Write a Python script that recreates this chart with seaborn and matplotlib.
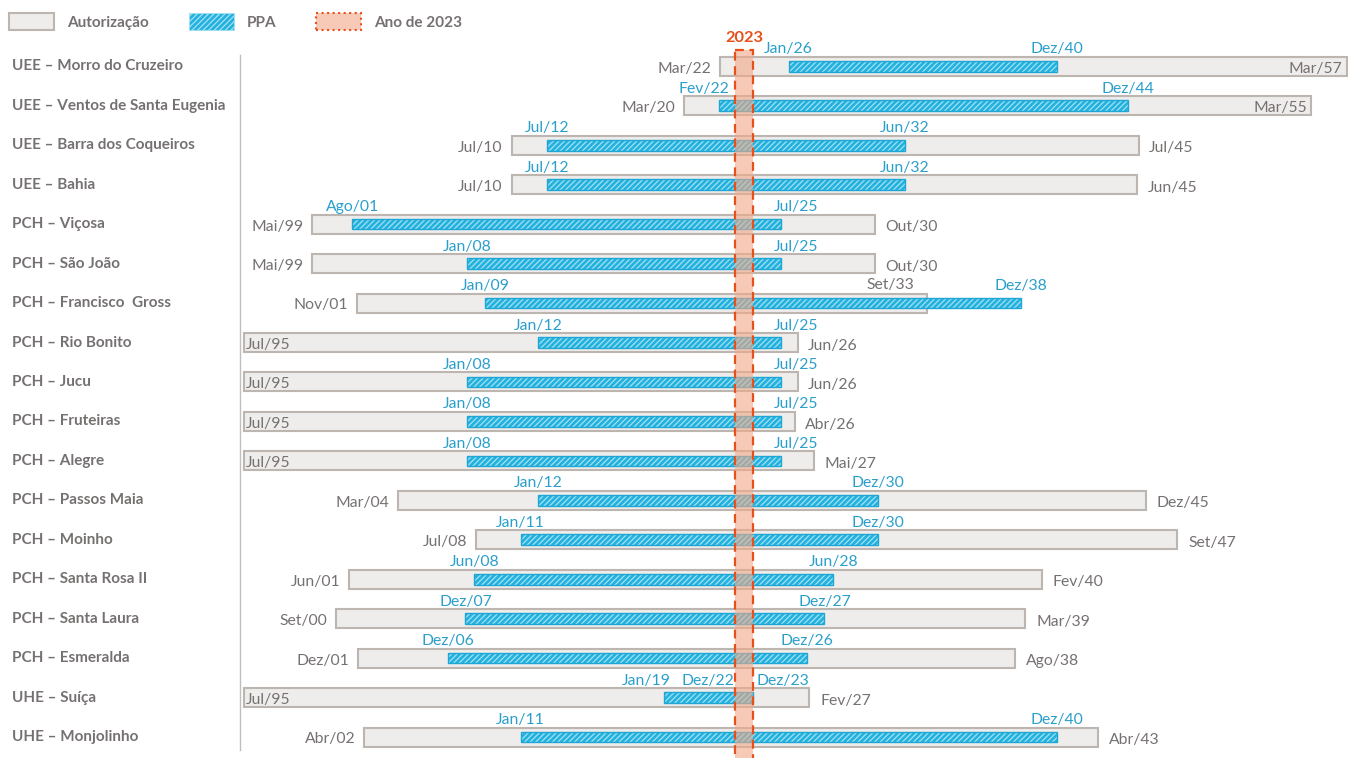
import numpy as np
import pandas as pd
import seaborn as sns
import matplotlib
matplotlib.use("Agg")
import matplotlib.pyplot as plt
from matplotlib.patches import Patch, Rectangle
import matplotlib.transforms as mtrans

# ---------------- data ----------------
rows = [
    "UEE – Morro do Cruzeiro", "UEE – Ventos de Santa Eugenia", "UEE – Barra dos Coqueiros",
    "UEE – Bahia", "PCH – Viçosa", "PCH – São João", "PCH – Francisco  Gross",
    "PCH – Rio Bonito", "PCH – Jucu", "PCH – Fruteiras", "PCH – Alegre",
    "PCH – Passos Maia", "PCH – Moinho", "PCH – Santa Rosa II", "PCH – Santa Laura",
    "PCH – Esmeralda", "UHE – Suíça", "UHE – Monjolinho",
]
aut_start = ["Mar/22", "Mar/20", "Jul/10", "Jul/10", "Mai/99", "Mai/99", "Nov/01", "Jul/95",
             "Jul/95", "Jul/95", "Jul/95", "Mar/04", "Jul/08", "Jun/01", "Set/00", "Dez/01",
             "Jul/95", "Abr/02"]
aut_end = ["Mar/57", "Mar/55", "Jul/45", "Jun/45", "Out/30", "Out/30", "Set/33", "Jun/26",
           "Jun/26", "Abr/26", "Mai/27", "Dez/45", "Set/47", "Fev/40", "Mar/39", "Ago/38",
           "Fev/27", "Abr/43"]
ppa_start = ["Jan/26", "Fev/22", "Jul/12", "Jul/12", "Ago/01", "Jan/08", "Jan/09", "Jan/12",
             "Jan/08", "Jan/08", "Jan/08", "Jan/12", "Jan/11", "Jun/08", "Dez/07", "Dez/06",
             "Jan/19", "Jan/11"]
ppa_end = ["Dez/40", "Dez/44", "Jun/32", "Jun/32", "Jul/25", "Jul/25", "Dez/38", "Jul/25",
           "Jul/25", "Jul/25", "Jul/25", "Dez/30", "Dez/30", "Jun/28", "Dez/27", "Dez/26",
           "Dez/23", "Dez/40"]
extra_rows = ["UHE – Suíça"]
extra_labels = ["Dez/22"]
highlight_year = 2023
legend_labels = ["Autorização", "PPA", "Ano de 2023"]

MESES = {"Jan": 1, "Fev": 2, "Mar": 3, "Abr": 4, "Mai": 5, "Jun": 6,
         "Jul": 7, "Ago": 8, "Set": 9, "Out": 10, "Nov": 11, "Dez": 12}


def to_year(s, end=False):
    m, y = s.split("/")
    y = int(y)
    y = 1900 + y if y >= 90 else 2000 + y
    mm = MESES[m]
    return y + (mm if end else mm - 1) / 12.0


df = pd.DataFrame({
    "row": rows,
    "a0": [to_year(s) for s in aut_start],
    "a1": [to_year(s, True) for s in aut_end],
    "p0": [to_year(s) for s in ppa_start],
    "p1": [to_year(s, True) for s in ppa_end],
    "a0_lbl": aut_start, "a1_lbl": aut_end, "p0_lbl": ppa_start, "p1_lbl": ppa_end,
})
df["y"] = np.arange(len(df))

# ---------------- style ----------------
sns.set_theme(style="white")
plt.rcParams["font.family"] = ["Lato", "DejaVu Sans"]
plt.rcParams["hatch.linewidth"] = 0.9

GRAY_TXT = "#767171"
AUT_FACE = "#efedeb"
AUT_EDGE = "#bdb5af"
BLUE = "#22b2df"
BLUE_EDGE = "#1ea6d4"
HATCH = "#a6e0f3"
BLUE_TXT = "#2a9fcc"
ORANGE = "#e8501a"
BAND = (0.945, 0.66, 0.535, 0.6)
FS = 11
VFS = 11.3

W, H = 1348, 758
fig = plt.figure(figsize=(W / 100, H / 100), dpi=100)
ax = fig.add_axes([240 / W, 0, 1108 / W, 711.7 / H])

XMIN, XMAX = 1995.3, 2057.3
ax.set_xlim(XMIN, XMAX)
ax.set_ylim(17.53, -0.507)

# authorisation bars
ax.barh(df["y"], df["a1"] - df["a0"], left=df["a0"], height=0.48,
        color=AUT_FACE, edgecolor=AUT_EDGE, linewidth=1.5, zorder=2)
# PPA bars: hatched fill + border
ax.barh(df["y"], df["p1"] - df["p0"], left=df["p0"], height=0.27,
        color=BLUE, edgecolor=HATCH, hatch="//////", linewidth=0, zorder=3)
ax.barh(df["y"], df["p1"] - df["p0"], left=df["p0"], height=0.27,
        fill=False, edgecolor=BLUE_EDGE, linewidth=1.0, zorder=3.1)

# 2023 band
band = Rectangle((highlight_year, -0.42), 1, 20, facecolor=BAND, edgecolor=ORANGE,
                 linestyle=(0, (4, 2.5)), linewidth=1.6, zorder=4)
ax.add_patch(band)
ax.text(highlight_year + 0.5, -0.72, str(highlight_year), ha="center", va="center",
        color=ORANGE, fontsize=11.8, fontweight="bold", clip_on=False, zorder=5)

# labels
for _, r in df.iterrows():
    y = r["y"]
    # authorisation start
    if r["a0"] - XMIN < 1.0:
        ax.text(r["a0"] + 0.12, y + 0.06, r["a0_lbl"], ha="left", va="center",
                color=GRAY_TXT, fontsize=VFS, zorder=5)
    else:
        ax.text(r["a0"] - 0.5, y + 0.06, r["a0_lbl"], ha="right", va="center",
                color=GRAY_TXT, fontsize=VFS, zorder=5)
    # authorisation end
    if XMAX - r["a1"] < 3.5:
        ax.text(r["a1"] - 0.25, y + 0.06, r["a1_lbl"], ha="right", va="center",
                color=GRAY_TXT, fontsize=VFS, zorder=5)
    elif r["p1"] > r["a1"]:
        ax.text(r["a1"] - 0.75, y - 0.45, r["a1_lbl"], ha="right", va="center",
                color=GRAY_TXT, fontsize=VFS, zorder=5)
    else:
        ax.text(r["a1"] + 0.6, y + 0.08, r["a1_lbl"], ha="left", va="center",
                color=GRAY_TXT, fontsize=VFS, zorder=5)
    # PPA start
    if r["row"] in extra_rows:
        ax.text(r["p0"] + 0.4, y - 0.43, r["p0_lbl"], ha="right", va="center",
                color=BLUE_TXT, fontsize=VFS, zorder=5)
    elif 0 < highlight_year - r["p0"] < 3:
        ax.text(r["p0"] + 0.6, y - 0.43, r["p0_lbl"], ha="right", va="center",
                color=BLUE_TXT, fontsize=VFS, zorder=5)
    else:
        ax.text(r["p0"], y - 0.43, r["p0_lbl"], ha="center", va="center",
                color=BLUE_TXT, fontsize=VFS, zorder=5)
    # PPA end
    if abs(r["p1"] - (highlight_year + 0.5)) < 3:
        ax.text(max(r["p1"] - 0.4, highlight_year + 1.2), y - 0.43, r["p1_lbl"],
                ha="left", va="center", color=BLUE_TXT, fontsize=VFS, zorder=5)
    else:
        ax.text(r["p1"], y - 0.43, r["p1_lbl"], ha="center", va="center",
                color=BLUE_TXT, fontsize=VFS, zorder=5)

for rname, lbl in zip(extra_rows, extra_labels):
    y = rows.index(rname)
    ax.text(highlight_year - 0.05, y - 0.43, lbl, ha="right", va="center",
            color=BLUE_TXT, fontsize=VFS, zorder=5)

# row names
tr = mtrans.blended_transform_factory(fig.transFigure, ax.transData)
for i, name in enumerate(rows):
    ax.text(12 / W, i, name, transform=tr, ha="left", va="center", color=GRAY_TXT,
            fontsize=FS, fontweight="bold", clip_on=False)

# axes cosmetics
ax.set_xticks([])
ax.set_yticks([])
ax.set_xlabel("")
ax.set_ylabel("")
sns.despine(ax=ax, top=True, right=True, bottom=True, left=False)
ax.spines["left"].set_color("#bfbfbf")
ax.spines["left"].set_linewidth(1.0)
ax.spines["left"].set_bounds(17.33, -0.28)

# legend
handles = [
    Patch(facecolor=AUT_FACE, edgecolor=AUT_EDGE, linewidth=1.5),
    Patch(facecolor=BLUE, edgecolor=HATCH, hatch="//////", linewidth=0.5),
    Patch(facecolor=BAND, edgecolor=ORANGE, linestyle=":", linewidth=1.5),
]
leg = fig.legend(handles, legend_labels, loc="upper left", bbox_to_anchor=(9 / W, 1 - 13 / H),
                 ncol=3, frameon=False, fontsize=FS, handlelength=2.95, handleheight=1.37,
                 handletextpad=0.85, columnspacing=2.6, borderaxespad=0, borderpad=0)
for t in leg.get_texts():
    t.set_color(GRAY_TXT)
    t.set_fontweight("bold")

fig.savefig("out.png", dpi=100)
